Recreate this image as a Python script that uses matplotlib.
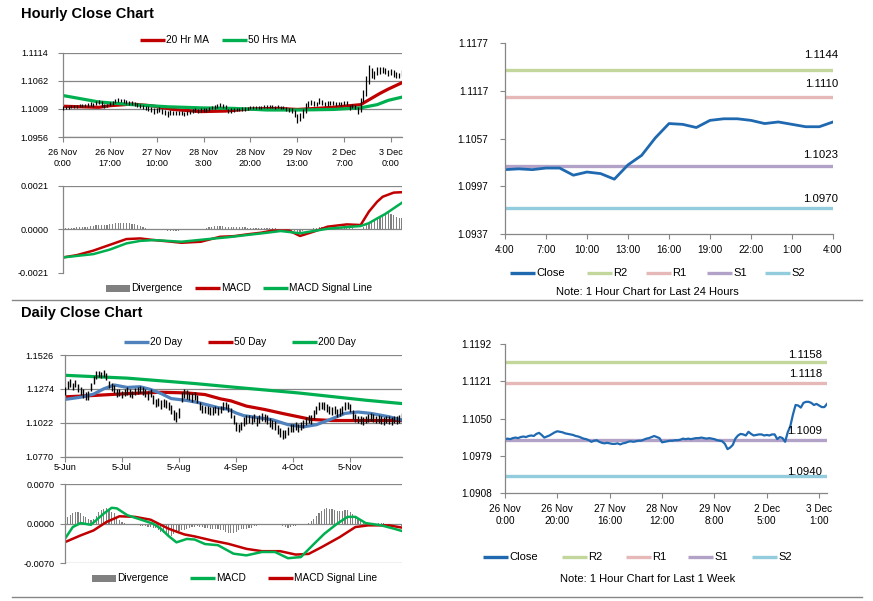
import numpy as np
import matplotlib
matplotlib.use("Agg")
import matplotlib.pyplot as plt
from matplotlib.patches import Rectangle

plt.rcParams['font.family'] = ['Liberation Sans', 'DejaVu Sans']

W, H = 873, 601

# ---------------- hourly data (26 Nov 0:00 -> 3 Dec 4:00, 124 hours) ----------------
hourly_close = [
    1.1011, 1.1012, 1.1011, 1.1013, 1.1014, 1.1013, 1.1015, 1.1016, 1.1015, 1.1017,
    1.1018, 1.1017, 1.1021, 1.1023, 1.1019, 1.1014, 1.1016, 1.1018, 1.1021, 1.1024,
    1.1026, 1.1025, 1.1024, 1.1022, 1.1021, 1.1020, 1.1019, 1.1017, 1.1016, 1.1014,
    1.1012, 1.1011, 1.1009, 1.1006, 1.1008, 1.1009, 1.1006, 1.1004, 1.1003, 1.1004,
    1.1003, 1.1002, 1.1002, 1.1003, 1.1001, 1.1003, 1.1004, 1.1006, 1.1007, 1.1006,
    1.1007, 1.1008, 1.1008, 1.1010, 1.1012, 1.1013, 1.1015, 1.1017, 1.1015, 1.1013,
    1.1005, 1.1006, 1.1007, 1.1008, 1.1008, 1.1009, 1.1009, 1.1010, 1.1012, 1.1011,
    1.1012, 1.1011, 1.1012, 1.1013, 1.1013, 1.1014, 1.1013, 1.1012, 1.1013, 1.1012,
    1.1011, 1.1009, 1.1008, 1.1007, 1.1002, 1.0992, 1.0995, 1.1000, 1.1012, 1.1018,
    1.1021, 1.1020, 1.1018, 1.1025, 1.1021, 1.1018, 1.1019, 1.1020, 1.1020,
    1.1018, 1.1019, 1.1018, 1.1020, 1.1020, 1.1011, 1.1015, 1.1013, 1.1006, 1.1024,
    1.1036, 1.1058, 1.1076, 1.1075, 1.1071, 1.1080, 1.1082, 1.1082, 1.1080, 1.1076,
    1.1078, 1.1075, 1.1072, 1.1072, 1.1078]
hourly_high = [
    1.1014, 1.1015, 1.1014, 1.1016, 1.1017, 1.1016, 1.1018, 1.1019, 1.1018, 1.1020,
    1.1021, 1.1020, 1.1024, 1.1026, 1.1024, 1.1019, 1.1019, 1.1021, 1.1024, 1.1027,
    1.1029, 1.1028, 1.1027, 1.1025, 1.1024, 1.1023, 1.1022, 1.1020, 1.1019, 1.1017,
    1.1015, 1.1014, 1.1012, 1.1010, 1.1011, 1.1012, 1.1009, 1.1007, 1.1006, 1.1007,
    1.1006, 1.1005, 1.1005, 1.1006, 1.1004, 1.1006, 1.1007, 1.1009, 1.1010, 1.1009,
    1.1010, 1.1011, 1.1011, 1.1013, 1.1015, 1.1016, 1.1018, 1.1020, 1.1018, 1.1016,
    1.1009, 1.1010, 1.1010, 1.1011, 1.1011, 1.1012, 1.1012, 1.1013, 1.1015, 1.1014,
    1.1015, 1.1014, 1.1015, 1.1016, 1.1016, 1.1017, 1.1016, 1.1015, 1.1016, 1.1015,
    1.1014, 1.1012, 1.1011, 1.1010, 1.1007, 1.1000, 1.1001, 1.1008, 1.1020, 1.1024,
    1.1025, 1.1024, 1.1022, 1.1029, 1.1025, 1.1022, 1.1023, 1.1023, 1.1023,
    1.1021, 1.1022, 1.1021, 1.1023, 1.1023, 1.1016, 1.1018, 1.1016, 1.1012, 1.1030,
    1.1045, 1.1070, 1.1091, 1.1085, 1.1080, 1.1087, 1.1088, 1.1088, 1.1086, 1.1082,
    1.1084, 1.1081, 1.1078, 1.1077, 1.1082]
hourly_low = [
    1.1007, 1.1008, 1.1008, 1.1010, 1.1010, 1.1010, 1.1012, 1.1012, 1.1012, 1.1013,
    1.1014, 1.1013, 1.1016, 1.1019, 1.1013, 1.1010, 1.1012, 1.1015, 1.1017, 1.1020,
    1.1022, 1.1021, 1.1020, 1.1018, 1.1017, 1.1016, 1.1015, 1.1012, 1.1011, 1.1009,
    1.1007, 1.1006, 1.1003, 1.1000, 1.1002, 1.1004, 1.1000, 1.0997, 1.0994, 1.0998,
    1.0997, 1.0997, 1.0998, 1.0998, 1.0996, 1.0998, 1.1000, 1.1002, 1.1003, 1.1002,
    1.1003, 1.1004, 1.1004, 1.1006, 1.1008, 1.1009, 1.1011, 1.1013, 1.1011, 1.1009,
    1.1001, 1.1002, 1.1003, 1.1005, 1.1005, 1.1006, 1.1006, 1.1007, 1.1009, 1.1008,
    1.1009, 1.1008, 1.1009, 1.1010, 1.1010, 1.1011, 1.1010, 1.1009, 1.1010, 1.1009,
    1.1008, 1.1005, 1.1004, 1.1002, 1.0994, 1.0982, 1.0986, 1.0992, 1.1002, 1.1012,
    1.1016, 1.1015, 1.1014, 1.1019, 1.1017, 1.1014, 1.1015, 1.1016, 1.1016,
    1.1015, 1.1016, 1.1015, 1.1017, 1.1016, 1.1007, 1.1010, 1.1008, 1.1000, 1.1004,
    1.1022, 1.1034, 1.1056, 1.1066, 1.1065, 1.1072, 1.1075, 1.1076, 1.1074, 1.1070,
    1.1072, 1.1069, 1.1067, 1.1066, 1.1071]
hourly_ticks = ['26 Nov\n0:00', '26 Nov\n17:00', '27 Nov\n10:00', '28 Nov\n3:00',
                '28 Nov\n20:00', '29 Nov\n13:00', '2 Dec\n7:00', '3 Dec\n0:00']

ma20_hr_x = [0, 13, 17, 25, 32, 40, 50, 59, 68, 78, 85, 92, 98, 104, 108, 110, 115, 118, 123]
ma20_hr = [1.1014, 1.1012, 1.1015, 1.1018, 1.1015, 1.1008, 1.1004, 1.1005, 1.1009, 1.1010,
           1.1008, 1.1010, 1.1012, 1.1015, 1.1017, 1.1023, 1.1038, 1.1046, 1.1058]
ma50_hr_x = [0, 13, 25, 38, 50, 62, 74, 86, 98, 108, 114, 118, 123]
ma50_hr = [1.1034, 1.1022, 1.1017, 1.1013, 1.1011, 1.1010, 1.1007, 1.1007, 1.1008,
           1.1011, 1.1017, 1.1025, 1.1031]

# MACD values in units of 0.0001
hr_div = [
    0.3, 0.5, 0.6, 0.7, 0.8, 0.9, 1.0, 1.1, 1.2, 1.3,
    1.4, 1.6, 1.9, 2.2, 2.3, 2.2, 2.3, 2.5, 2.7, 2.9,
    3.0, 3.1, 3.2, 3.1, 2.9, 2.7, 2.4, 2.0, 1.6, 1.2,
    0.8, 0.4, 0.1, -0.1, -0.3, -0.4, -0.5, -0.5, -0.6, -0.6,
    -0.6, -0.6, -0.6, -0.5, -0.5, -0.5, -0.4, -0.3, -0.2, -0.1,
    0.1, 0.3, 0.6, 0.9, 1.2, 1.4, 1.6, 1.6, 1.4, 1.2,
    1.0, 0.9, 0.9, 1.0, 1.0, 0.9, 0.9, 0.8, 0.8, 0.8,
    0.7, 0.7, 0.7, 0.8, 0.8, 0.7, 0.6, 0.5, 0.4, 0.3,
    0.2, 0.0, -0.3, -0.6, -0.9, -1.1, -1.1, -0.8, -0.4, 0.0,
    0.3, 0.6, 0.8, 1.0, 1.0, 1.0, 0.9, 0.9, 0.9,
    0.9, 0.8, 0.8, 0.8, 0.7, 0.6, 0.5, 0.4, 0.3, 0.4,
    1.2, 2.2, 3.2, 4.2, 5.1, 5.9, 6.6, 7.1, 7.5, 7.7,
    7.4, 6.8, 6.2, 5.7, 5.3]
hr_macd_x = [0, 5, 11, 17, 23, 28, 33, 38, 43, 50, 57, 62, 67, 72, 76, 82, 86, 91, 96,
             103, 108, 111, 114, 116, 120, 123]
hr_macd = [-13.6, -12.5, -10.3, -7.5, -4.7, -4.4, -5.2, -5.8, -6.5, -6.0, -3.6, -3.3,
           -2.4, -1.6, -0.6, -0.6, -3.2, -1.1, 1.3, 2.4, 2.1, 8.6, 13.4, 15.8, 17.8, 18.0]
hr_signal_x = [0, 11, 17, 23, 28, 33, 43, 52, 60, 67, 73, 79, 86, 91, 96, 102, 108,
               111, 114, 117, 120, 123]
hr_signal = [-13.6, -12.0, -9.8, -6.8, -5.6, -5.2, -6.0, -4.8, -3.8, -2.7, -1.8, -0.8,
             -1.9, -0.8, 0.3, 1.0, 1.6, 3.0, 5.3, 7.5, 10.2, 12.9]

# pivot levels
levels = ['R2', 'R1', 'S1', 'S2']
levels_24h = [1.1144, 1.1110, 1.1023, 1.0970]
levels_week = [1.1158, 1.1118, 1.1009, 1.0940]
day_ticks = ['4:00', '7:00', '10:00', '13:00', '16:00', '19:00', '22:00', '1:00', '4:00']
week_ticks = ['26 Nov\n0:00', '26 Nov\n20:00', '27 Nov\n16:00', '28 Nov\n12:00',
              '29 Nov\n8:00', '2 Dec\n5:00', '3 Dec\n1:00']

# ---------------- daily data (5 Jun -> 3 Dec, 131 days) ----------------
daily_high = [
    1.1290, 1.1330, 1.1345, 1.1320, 1.1340, 1.1310, 1.1285, 1.1270, 1.1250, 1.1255,
    1.1320, 1.1370, 1.1405, 1.1410, 1.1400, 1.1412, 1.1395, 1.1335, 1.1315, 1.1300,
    1.1275, 1.1275, 1.1260, 1.1270, 1.1285, 1.1272, 1.1260, 1.1282, 1.1290, 1.1295,
    1.1285, 1.1272, 1.1255, 1.1270, 1.1230, 1.1200, 1.1205, 1.1190, 1.1200, 1.1195,
    1.1175, 1.1155, 1.1120, 1.1100, 1.1130, 1.1250, 1.1275, 1.1265, 1.1250, 1.1240,
    1.1250, 1.1230, 1.1180, 1.1155, 1.1150, 1.1145, 1.1138, 1.1138, 1.1150, 1.1138,
    1.1150, 1.1175, 1.1180, 1.1165, 1.1130, 1.1080, 1.1030, 1.1015, 1.1030, 1.1065,
    1.1078, 1.1082, 1.1072, 1.1090, 1.1065, 1.1082, 1.1098, 1.1090, 1.1078, 1.1055,
    1.1040, 1.1035, 1.1005, 1.0985, 1.0965, 1.0972, 1.0990, 1.1015, 1.1015, 1.1028,
    1.1015, 1.1028, 1.1040, 1.1065, 1.1082, 1.1078, 1.1115, 1.1150, 1.1175, 1.1180,
    1.1175, 1.1162, 1.1150, 1.1138, 1.1145, 1.1125, 1.1130, 1.1150, 1.1175, 1.1180,
    1.1160, 1.1115, 1.1088, 1.1075, 1.1070, 1.1062, 1.1075, 1.1088, 1.1095, 1.1088,
    1.1075, 1.1080, 1.1070, 1.1062, 1.1075, 1.1070, 1.1062, 1.1075, 1.1070, 1.1080,
    1.1095]
daily_low = [
    1.1225, 1.1270, 1.1285, 1.1265, 1.1285, 1.1250, 1.1230, 1.1210, 1.1190, 1.1195,
    1.1260, 1.1310, 1.1350, 1.1360, 1.1355, 1.1365, 1.1340, 1.1280, 1.1262, 1.1245,
    1.1215, 1.1220, 1.1205, 1.1218, 1.1230, 1.1215, 1.1205, 1.1228, 1.1236, 1.1240,
    1.1230, 1.1215, 1.1195, 1.1215, 1.1165, 1.1140, 1.1145, 1.1125, 1.1140, 1.1135,
    1.1115, 1.1085, 1.1045, 1.1030, 1.1060, 1.1180, 1.1210, 1.1200, 1.1190, 1.1175,
    1.1190, 1.1170, 1.1115, 1.1098, 1.1092, 1.1088, 1.1080, 1.1080, 1.1092, 1.1078,
    1.1092, 1.1118, 1.1122, 1.1100, 1.1060, 1.1010, 1.0960, 1.0955, 1.0965, 1.1000,
    1.1015, 1.1020, 1.1010, 1.1028, 1.1000, 1.1020, 1.1035, 1.1028, 1.1015, 1.0990,
    1.0978, 1.0970, 1.0940, 1.0920, 1.0905, 1.0912, 1.0930, 1.0955, 1.0955, 1.0965,
    1.0955, 1.0965, 1.0980, 1.1002, 1.1020, 1.1015, 1.1050, 1.1090, 1.1115, 1.1128,
    1.1115, 1.1102, 1.1090, 1.1078, 1.1085, 1.1065, 1.1070, 1.1090, 1.1115, 1.1125,
    1.1100, 1.1052, 1.1030, 1.1018, 1.1012, 1.1005, 1.1018, 1.1030, 1.1038, 1.1030,
    1.1018, 1.1022, 1.1012, 1.1005, 1.1018, 1.1012, 1.1005, 1.1018, 1.1012, 1.1020,
    1.1030]
daily_ticks = ['5-Jun', '5-Jul', '5-Aug', '4-Sep', '4-Oct', '5-Nov']

ma20_d_x = [0, 6, 11, 15, 19, 24, 29, 33, 37, 41, 47, 52, 59, 63, 66, 69, 74, 80, 86,
            92, 97, 103, 108, 113, 118, 125, 130]
ma20_d = [1.1196, 1.1212, 1.1235, 1.1275, 1.1303, 1.1285, 1.1290, 1.1270, 1.1240,
          1.1202, 1.1188, 1.1170, 1.1135, 1.1122, 1.1095, 1.1075, 1.1062, 1.1045, 1.1008,
          1.0992, 1.1008, 1.1052, 1.1092, 1.1102, 1.1092, 1.1067, 1.1042]
ma50_d_x = [0, 11, 24, 37, 47, 54, 60, 64, 70, 77, 84, 90, 95, 103, 116, 130]
ma50_d = [1.1215, 1.1225, 1.1239, 1.1249, 1.1244, 1.1232, 1.1200, 1.1185, 1.1146,
          1.1121, 1.1091, 1.1067, 1.1047, 1.1039, 1.1039, 1.1039]
ma200_d_x = [0, 24, 50, 65, 90, 116, 130]
ma200_d = [1.1375, 1.1354, 1.1314, 1.1287, 1.1244, 1.1190, 1.1165]

d_div = [
    8, 12, 16, 19, 20, 20, 18, 14, 12, 9,
    6, 8, 14, 20, 24, 26, 27, 25, 21, 18,
    12, 6, 3, 1, -1, -2, -3, -3, -3, -4,
    -4, -5, -6, -6, -7, -8, -11, -14, -17, -19,
    -20, -21, -19, -15, -13, -12, -11, -9, -7, -6,
    -6, -5, -6, -6, -7, -8, -9, -9, -9, -10,
    -11, -12, -14, -16, -17, -16, -14, -11, -9, -9,
    -9, -8, -7, -5, -4, -3, -3, -2, -1, 0,
    0, 0, -1, -3, -5, -6, -7, -6, -5, -4,
    -3, -3, -2, -1, 2, 5, 9, 14, 19, 23,
    26, 27, 26, 25, 24, 23, 22, 23, 24, 24,
    21, 17, 13, 9, 5, 3, 2, 1, 0, -1,
    -1, 1, 2, 1, 0, -1, -2, -2, -3, -3, -4]
d_macd_x = [0, 3, 6, 10, 12, 15, 18, 20, 24, 30, 34, 37, 40, 43, 47, 50, 54, 59, 65,
            70, 76, 81, 86, 91, 96, 100, 105, 109, 112, 116, 122, 127, 130]
d_macd = [-26.6, -6, 1, -2, 6, 18, 28, 27, 15, 6, 0, -9, -22, -33, -27, -28, -36, -38,
          -53, -56, -50, -50, -61, -59, -36, -18, 0, 12, 12, 1, -3, -9, -13]
d_signal_x = [0, 6, 11, 16, 21, 27, 33, 40, 46, 50, 57, 63, 70, 76, 83, 89, 94, 99,
              106, 112, 117, 125, 130]
d_signal = [-32.6, -20.8, -12, 3, 13, 12, 7, -9, -19, -22.5, -30, -35.6, -44.5, -48.6,
            -48.6, -54.6, -53.4, -41.5, -23.7, -6, -3, -3, -7]

# ---------------- styling ----------------
GREY = '#868686'
RED = '#C00000'
GREEN = '#00B050'
BLUE = '#4F81BD'
CLOSE = '#1F69B1'
LEVEL_COLORS = ['#C3D69B', '#E6B9B8', '#B3A2C7', '#93CDDD']

fig = plt.figure(figsize=(W / 100, H / 100), dpi=100)
bg = fig.add_axes([0, 0, 1, 1])
bg.set_xlim(0, W)
bg.set_ylim(H, 0)
bg.axis('off')


def box(left, top, right, bottom):
    return fig.add_axes([left / W, 1 - bottom / H, (right - left) / W, (bottom - top) / H])


def style(ax, size, ypad, xpad):
    ax.set_facecolor('none')
    for s in ['top', 'right']:
        ax.spines[s].set_visible(False)
    for s in ['left', 'bottom']:
        ax.spines[s].set_color(GREY)
        ax.spines[s].set_linewidth(0.9)
    ax.tick_params(direction='out', length=3.5, width=0.8, color=GREY,
                   labelsize=size, labelcolor='black')
    ax.tick_params(axis='y', pad=ypad)
    ax.tick_params(axis='x', pad=xpad)


def set_yticks(ax, ticks):
    ax.set_yticks(ticks)
    ax.set_yticklabels([f'{t:.4f}' for t in ticks])


def legend_line(x, y, color, label, size=7.3, length=25):
    bg.plot([x, x + length], [y, y], color=color, lw=2.4, solid_capstyle='butt')
    bg.text(x + length + 1, y, label, fontsize=size, va='center', ha='left')


def legend_patch(x, y, label, size=7.3):
    bg.add_patch(Rectangle((x, y - 3.5), 24, 7, color='#808080', lw=0))
    bg.text(x + 25, y, label, fontsize=size, va='center', ha='left')


# titles and separators
bg.text(21, 14, 'Hourly Close Chart', fontsize=10.5, fontweight='bold', va='center')
bg.text(21, 313, 'Daily Close Chart', fontsize=10.5, fontweight='bold', va='center')
bg.plot([12, 862], [299.5, 299.5], color=GREY, lw=1)
bg.plot([12, 862], [597, 597], color=GREY, lw=1)

# ---- A: hourly close with moving averages ----
hx = np.arange(len(hourly_close))
axA = box(63, 52.7, 402, 137.3)
axA.yaxis.grid(True, color=GREY, lw=0.9)
axA.set_axisbelow(True)
axA.plot(ma20_hr_x, ma20_hr, color=RED, lw=2.3, zorder=2)
axA.plot(ma50_hr_x, ma50_hr, color=GREEN, lw=2.3, zorder=2)
axA.vlines(hx, hourly_low, hourly_high, color='black', lw=0.9, zorder=3)
axA.set_xlim(0, len(hx) - 1)
axA.set_ylim(1.0956, 1.1114)
set_yticks(axA, [1.0956, 1.1009, 1.1062, 1.1114])
axA.set_xticks(np.arange(0, 120, 17))
axA.set_xticklabels(hourly_ticks, linespacing=1.35)
style(axA, 6.6, 7, 4)
legend_line(140, 40, RED, '20 Hr MA')
legend_line(222, 40, GREEN, '50 Hrs MA')

# ---- B: hourly MACD ----
axB = box(63, 186, 402, 272.7)
axB.axhline(0.0021, color=GREY, lw=0.9)
axB.axhline(0, color=GREY, lw=0.9)
axB.bar(hx, np.array(hr_div) * 1e-4, width=0.45, color='#808080')
axB.plot(hr_macd_x, np.array(hr_macd) * 1e-4, color=RED, lw=1.8)
axB.plot(hr_signal_x, np.array(hr_signal) * 1e-4, color=GREEN, lw=1.8)
axB.set_xlim(0, len(hx) - 1)
axB.set_ylim(-0.0021, 0.0021)
set_yticks(axB, [-0.0021, 0.0, 0.0021])
axB.set_xticks([])
style(axB, 6.6, 7, 4)
axB.spines['bottom'].set_visible(False)
legend_patch(106, 288, 'Divergence')
legend_line(195, 288, RED, 'MACD')
legend_line(263, 288, GREEN, 'MACD Signal Line')

# ---- C: last 24 hours with pivot levels ----
day_close = hourly_close[-25:]
axC = box(505, 43.3, 833, 234)
c_dy = [15, 13, 11, 9]
for lvl, val, col, dy in zip(levels, levels_24h, LEVEL_COLORS, c_dy):
    axC.hlines(val, 0, 24, color=col, lw=2.4)
    axC.annotate(f'{val:.4f}', xy=(1, val), xycoords=('axes fraction', 'data'),
                 xytext=(5, dy), textcoords='offset pixels', ha='right', va='center',
                 fontsize=8.2)
axC.plot(np.arange(25), day_close, color=CLOSE, lw=2.0)
axC.set_xlim(0, 24)
axC.set_ylim(1.0937, 1.1177)
set_yticks(axC, [1.0937, 1.0997, 1.1057, 1.1117, 1.1177])
axC.set_xticks(np.arange(0, 25, 3))
axC.set_xticklabels(day_ticks)
style(axC, 7.2, 8.5, 4.5)
legend_line(510, 273, CLOSE, 'Close', size=8)
for x0, lvl, col in zip([587, 646, 707, 765], levels, LEVEL_COLORS):
    legend_line(x0, 273, col, lvl, size=8)
bg.text(647, 292, 'Note: 1 Hour Chart for Last 24 Hours', fontsize=8, ha='center', va='center')

# ---- D: daily close with moving averages ----
dx = np.arange(len(daily_high))
axD = box(65, 355, 402, 456.7)
axD.yaxis.grid(True, color=GREY, lw=0.9)
axD.set_axisbelow(True)
axD.plot(ma200_d_x, ma200_d, color=GREEN, lw=2.3, zorder=2)
axD.plot(ma50_d_x, ma50_d, color=RED, lw=2.3, zorder=2)
axD.plot(ma20_d_x, ma20_d, color=BLUE, lw=2.3, zorder=2)
axD.vlines(dx, daily_low, daily_high, color='black', lw=1.0, zorder=3)
axD.set_xlim(0, len(dx) - 1)
axD.set_ylim(1.0770, 1.1526)
set_yticks(axD, [1.0770, 1.1022, 1.1274, 1.1526])
axD.set_xticks(np.arange(0, 111, 22))
axD.set_xticklabels(daily_ticks)
style(axD, 6.6, 4.5, 1)
legend_line(124, 342, BLUE, '20 Day')
legend_line(208, 342, RED, '50 Day')
legend_line(292, 342, GREEN, '200 Day')

# ---- E: daily MACD ----
axE = box(65, 484, 402, 563.3)
for yv in [0.007, 0.0, -0.007]:
    axE.axhline(yv, color=GREY, lw=0.9)
axE.bar(dx, np.array(d_div) * 1e-4, width=0.45, color='#808080')
axE.plot(d_signal_x, np.array(d_signal) * 1e-4, color=RED, lw=1.8)
axE.plot(d_macd_x, np.array(d_macd) * 1e-4, color=GREEN, lw=1.8)
axE.set_xlim(0, len(dx) - 1)
axE.set_ylim(-0.007, 0.007)
set_yticks(axE, [-0.007, 0.0, 0.007])
axE.set_xticks([])
style(axE, 6.6, 4, 4)
axE.spines['bottom'].set_visible(False)
legend_patch(92, 578, 'Divergence')
legend_line(190, 578, GREEN, 'MACD')
legend_line(268, 578, RED, 'MACD Signal Line')

# ---- F: last week hourly with pivot levels ----
axF = box(505, 344, 827, 493.3)
f_dy = [7, 9, 9, 4]
for lvl, val, col, dy in zip(levels, levels_week, LEVEL_COLORS, f_dy):
    axF.hlines(val, 0, len(hx) - 1, color=col, lw=2.4)
    axF.annotate(f'{val:.4f}', xy=(1, val), xycoords=('axes fraction', 'data'),
                 xytext=(-5, dy), textcoords='offset pixels', ha='right', va='center',
                 fontsize=8.2)
axF.plot(hx, hourly_close, color=CLOSE, lw=1.6)
axF.set_xlim(0, len(hx) - 1)
axF.set_ylim(1.0908, 1.1192)
set_yticks(axF, [1.0908, 1.0979, 1.1050, 1.1121, 1.1192])
axF.set_xticks(np.arange(0, 121, 20))
axF.set_xticklabels(week_ticks, linespacing=1.25)
style(axF, 7.2, 6, 4)
legend_line(483, 557, CLOSE, 'Close', size=8)
for x0, lvl, col in zip([562, 626, 688, 752], levels, LEVEL_COLORS):
    legend_line(x0, 557, col, lvl, size=8)
bg.text(648, 579, 'Note: 1 Hour Chart for Last 1 Week', fontsize=8, ha='center', va='center')

fig.savefig('out.png', dpi=100)
